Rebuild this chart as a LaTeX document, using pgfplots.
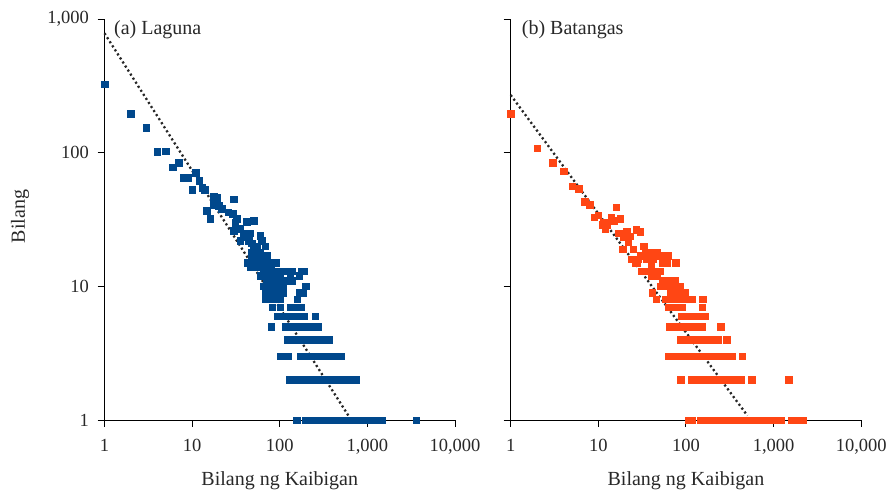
\documentclass[border=0pt]{standalone}
\usepackage{pgfplots}
\pgfplotsset{compat=1.18}
\usepackage{fontspec}
\setmainfont{Liberation Serif}
\definecolor{lagblue}{RGB}{0,72,140}
\definecolor{batorange}{RGB}{255,70,20}
\definecolor{txt}{RGB}{40,40,40}

\pgfplotstableread{
x y
1 325
2 195
3 154
4 102
5 103
6 78
7 84
8 65
9 65
10 53
11 71
12 62
13 55
14 53
14.7 37
16 32
17.5 47
17.5 41
19 46
20 40
21.8 38
25.9 36
28.8 35
29.6 45
30.9 30
32.3 32
29.6 26
35.2 27
38.4 23.5
42 30.5
45.8 25
50 31
35.2 22
43.9 22
59.6 24
62.6 22
40 25
48 21
55 20
50 19
68 20
52 17
56 17
71 17
48 16
57 16
65 16
48 18
60 18
43 15
47 15
51 15
56 15
61 15
66 15
72 15
78 15
85 15
90 15
46 14
52 14
60 14
64 14
70 14
74 14
80 14
65 13
71 13
77 13
84 13
92 13
100 13
108 13
113 13
136 13
175 13
187 13
60 12
66 12
72 12
78 12
85 12
92 12
100 12
131 12
166 12
71 11
77 11
84 11
91 11
99 11
108 11
118 11
131 11
138 11
66 10
72 10
78 10
85 10
93 10
101 10
108 10
197 10
68 9
74 9
81 9
88 9
96 9
105 9
109 9
170 9
185 9
68 8
74 8
81 8
88 8
96 8
100 8
158 8
82 7
101 7
134 7
146 7
159 7
172 7
175 7
94 6
102 6
112 6
122 6
133 6
145 6
158 6
172 6
186 6
253 6
80 5
115 5
125 5
137 5
149 5
162 5
177 5
193 5
210 5
229 5
250 5
270 5
121 4
132 4
144 4
157 4
171 4
186 4
203 4
221 4
241 4
263 4
287 4
313 4
341 4
364 4
103 3
112 3
123 3
171 3
186 3
203 3
221 3
241 3
263 3
287 3
313 3
341 3
372 3
405 3
417 3
500 3
128 2
139 2
152 2
166 2
181 2
197 2
215 2
234 2
255 2
278 2
303 2
330 2
360 2
392 2
427 2
466 2
508 2
553 2
603 2
657 2
716 2
743 2
156 1
194 1
211 1
230 1
251 1
274 1
298 1
325 1
354 1
386 1
421 1
459 1
500 1
545 1
594 1
648 1
706 1
770 1
839 1
915 1
997 1
1087 1
1185 1
1291 1
1407 1
1472 1
3597 1
}\laguna

\pgfplotstableread{
x y
1 195
2 108
3 84
4 73
5 56
6 54
7 43
8 41
9 33
10 34
11 29
11.5 30
12 27
12.5 29
14 33
15 31
16 39
17.7 32
17 25
19.5 23.5
21 25.7
21 23.5
22 21.6
23 23.8
27 26.5
30 25.7
19 19
25 19
32.7 20
34.5 18
39 18
46 18
24 16
28 16
35.6 16
42 16
30 17
50 17
58 17
62 17
26.5 15
27.3 15
54 15
61 15
76 15
40 14
31 13
36 13
42 13
46 13
50 13
40 12
46 12
54 11
58 11
63 11
68 11
74 11
51 10
56 10
61 10
66 10
70 10
85 10
41 9
67 9
72 9
78 9
84 9
91 9
98 9
45.5 8
58 8
63 8
69 8
75 8
82 8
90 8
98 8
107 8
116 8
156 8
63 7
68 7
74 7
81 7
89 7
153 7
90 6
98 6
107 6
117 6
128 6
140 6
152 6
164 6
65 5
71 5
77 5
84 5
92 5
100 5
110 5
120 5
131 5
143 5
151 5
250 5
86 4
94 4
102 4
111 4
121 4
132 4
144 4
157 4
171 4
187 4
204 4
222 4
232 4
292 4
63 3
69 3
75 3
82 3
89 3
97 3
106 3
116 3
126 3
138 3
150 3
164 3
179 3
195 3
213 3
232 3
253 3
276 3
301 3
333 3
437 3
87 2
115 2
125 2
137 2
149 2
162 2
177 2
193 2
210 2
229 2
250 2
272 2
297 2
324 2
353 2
385 2
420 2
427 2
564 2
1475 2
107 1
116 1
146 1
159 1
173 1
189 1
206 1
225 1
245 1
267 1
291 1
317 1
346 1
377 1
411 1
448 1
488 1
532 1
580 1
632 1
689 1
751 1
819 1
892 1
973 1
1060 1
1156 1
1216 1
1584 1
1727 1
1882 1
2051 1
2174 1
}\batangas

\begin{document}
\begin{tikzpicture}
\useasboundingbox (-104.5pt,-71pt) rectangle (783.5pt,420pt);
\begin{axis}[at={(0pt,0pt)}, anchor=south west,
    xmode=log, ymode=log,
    scale only axis, width=350.5pt, height=401pt,
    xmin=1, xmax=10000, ymin=1, ymax=1000,
    axis x line*=bottom, axis y line*=left,
    axis line style={line width=1pt, black},
    xtick pos=bottom, ytick pos=left,
    xtick align=outside, ytick align=outside,
    major tick length=7pt, minor tick length=0pt,
    every tick/.style={line width=1pt, black},
    xtick={1,10,100,1000,10000},
    xticklabels={1,10,100,{1,000},{10,000}},
    ytick={1,10,100,1000},
    yticklabels={1,10,100,{1,000}},
    clip=false,
    tick label style={font=\fontsize{18.5}{20}\selectfont, text=txt},
    xticklabel style={yshift=-9pt},
    yticklabel style={xshift=-5pt},
    label style={font=\fontsize{20}{22}\selectfont, text=txt},
    xlabel={Bilang ng Kaibigan},
    xlabel style={at={(axis description cs:0.5,0)}, anchor=base, yshift=-65pt},
    ylabel={Bilang},
    ylabel style={at={(axis description cs:0,0.5)}, anchor=center, rotate=0, yshift=84.5pt, xshift=3pt},
]
\addplot[only marks, mark=square*, mark size=3.3pt, mark options={fill=lagblue, draw=lagblue, line width=0.3pt}] table[x=x,y=y] {\laguna};
\addplot[no marks, black!85, line width=2.3pt, line cap=butt, dash pattern=on 2.1pt off 2.7pt] coordinates {(1,782) (618,1.06)};
\node[anchor=north west, inner sep=0pt, font=\fontsize{20}{22}\selectfont, text=txt] at (rel axis cs:0,1) [xshift=9.5pt, yshift=-1pt] {(a) Laguna};
\end{axis}
\begin{axis}[at={(406.2pt,0pt)}, anchor=south west,
    xmode=log, ymode=log,
    scale only axis, width=350.5pt, height=401pt,
    xmin=1, xmax=10000, ymin=1, ymax=1000,
    axis x line*=bottom, axis y line*=left,
    axis line style={line width=1pt, black},
    xtick pos=bottom, ytick pos=left,
    xtick align=outside, ytick align=outside,
    major tick length=7pt, minor tick length=0pt,
    every tick/.style={line width=1pt, black},
    xtick={1,10,100,1000,10000},
    xticklabels={1,10,100,{1,000},{10,000}},
    ytick={1,10,100,1000},
    yticklabels={,,,},
    clip=false,
    tick label style={font=\fontsize{18.5}{20}\selectfont, text=txt},
    xticklabel style={yshift=-9pt},
    label style={font=\fontsize{20}{22}\selectfont, text=txt},
    xlabel={Bilang ng Kaibigan},
    xlabel style={at={(axis description cs:0.5,0)}, anchor=base, yshift=-65pt},
]
\addplot[only marks, mark=square*, mark size=3.3pt, mark options={fill=batorange, draw=batorange, line width=0.3pt}] table[x=x,y=y] {\batangas};
\addplot[no marks, black!85, line width=2.3pt, line cap=butt, dash pattern=on 2.1pt off 2.7pt] coordinates {(1,270) (502,1.08)};
\node[anchor=north west, inner sep=0pt, font=\fontsize{20}{22}\selectfont, text=txt] at (rel axis cs:0,1) [xshift=11pt, yshift=-1pt] {(b) Batangas};
\end{axis}
\end{tikzpicture}
\end{document}
